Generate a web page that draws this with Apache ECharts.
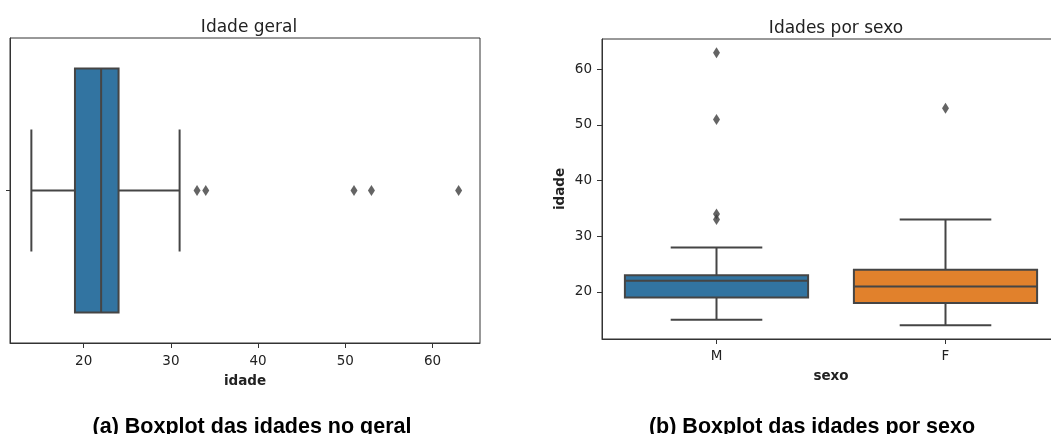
<!DOCTYPE html>
<html>
<head>
<meta charset="utf-8">
<script src="https://cdn.jsdelivr.net/npm/echarts@6/dist/echarts.min.js"></script>
<style>
html,body{margin:0;padding:0;background:#fff;}
#chart{width:1051px;height:434px;}
</style>
</head>
<body>
<div id="chart"></div>
<script>
// ---- data ----
const overallCategory = [''];
const overallStats = [14, 19, 22, 24, 31];      // lower whisker, Q1, median, Q3, upper whisker
const overallOutliers = [33, 34, 51, 53, 63];
const sexCategories = ['M', 'F'];
const sexStatsM = [15, 19, 22, 23, 28];
const sexStatsF = [14, 18, 21, 24, 33];
const sexOutliersM = [33, 34, 51, 63];
const sexOutliersF = [53];
const ageTicks = [20, 30, 40, 50, 60];
const ageMin = 11.55, ageMax = 65.45;

const boxColors = ['#3274a1', '#e1812c'];
const lineColor = '#454545';
const font = 'DejaVu Sans';
const textColor = '#222222';

function boxRender(horizontal) {
  return function (params, api) {
    const c = api.value(0);
    const v = [1, 2, 3, 4, 5].map(function (i) { return api.value(i); });
    const band = horizontal ? api.size([0, 1])[1] : api.size([1, 0])[0];
    const bw = band * 0.8, cw = band * 0.4;
    const pt = function (val) { return horizontal ? api.coord([val, c]) : api.coord([c, val]); };
    const p = v.map(pt);
    const lineStyle = { stroke: lineColor, lineWidth: 2 };
    const children = [];
    function seg(a, b) {
      children.push({ type: 'line', shape: { x1: a[0], y1: a[1], x2: b[0], y2: b[1] }, style: lineStyle });
    }
    function cross(q, half) {
      if (horizontal) seg([q[0], q[1] - half], [q[0], q[1] + half]);
      else seg([q[0] - half, q[1]], [q[0] + half, q[1]]);
    }
    seg(p[0], p[1]);
    seg(p[3], p[4]);
    cross(p[0], cw / 2);
    cross(p[4], cw / 2);
    let rect;
    if (horizontal) {
      rect = { x: p[1][0], y: p[1][1] - bw / 2, width: p[3][0] - p[1][0], height: bw };
    } else {
      rect = { x: p[1][0] - bw / 2, y: p[3][1], width: bw, height: p[1][1] - p[3][1] };
    }
    children.push({ type: 'rect', shape: rect, style: { fill: boxColors[params.dataIndex], stroke: lineColor, lineWidth: 2 } });
    cross(p[2], bw / 2);
    return { type: 'group', children: children };
  };
}

const axisText = { fontFamily: font, fontSize: 13.5, color: textColor };
const nameText = { fontFamily: font, fontSize: 13.5, fontWeight: 'bold', color: textColor };

const chart = echarts.init(document.getElementById('chart'), null, { renderer: 'canvas' });
chart.setOption({
  animation: false,
  backgroundColor: '#ffffff',
  title: [
    { text: 'Idade geral', left: 244, top: 14, textAlign: 'center',
      textStyle: { fontFamily: font, fontSize: 17, fontWeight: 'normal', color: textColor } },
    { text: 'Idades por sexo', left: 831, top: 15, textAlign: 'center',
      textStyle: { fontFamily: font, fontSize: 17, fontWeight: 'normal', color: textColor } },
    { text: '(a) Boxplot das idades no geral', left: 247, top: 411, textAlign: 'center',
      textStyle: { fontFamily: 'Liberation Sans', fontSize: 21.5, fontWeight: 'bold', color: '#000' } },
    { text: '(b) Boxplot das idades por sexo', left: 807, top: 411, textAlign: 'center',
      textStyle: { fontFamily: 'Liberation Sans', fontSize: 21.5, fontWeight: 'bold', color: '#000' } }
  ],
  grid: [
    { left: 10, top: 38, width: 470, height: 305, show: true, borderColor: '#333', borderWidth: 1,
      backgroundColor: 'transparent', outerBoundsMode: 'none', containLabel: false },
    { left: 602, top: 39, width: 458, height: 300, show: true, borderColor: '#333', borderWidth: 1,
      backgroundColor: 'transparent', outerBoundsMode: 'none', containLabel: false }
  ],
  xAxis: [
    { type: 'value', gridIndex: 0, min: ageMin, max: ageMax,
      name: 'idade', nameLocation: 'middle', nameGap: 31, nameTextStyle: nameText,
      axisLine: { show: true, lineStyle: { color: '#333' } },
      axisTick: { show: true, length: 5, lineStyle: { color: '#333' }, customValues: ageTicks },
      axisLabel: Object.assign({ margin: 11, customValues: ageTicks }, axisText),
      splitLine: { show: false } },
    { type: 'category', gridIndex: 1, data: sexCategories,
      name: 'sexo', nameLocation: 'middle', nameGap: 30, nameTextStyle: nameText,
      axisLine: { show: true, lineStyle: { color: '#333' } },
      axisTick: { show: true, length: 5, alignWithLabel: true, lineStyle: { color: '#333' } },
      axisLabel: Object.assign({ margin: 10 }, axisText),
      splitLine: { show: false } }
  ],
  yAxis: [
    { type: 'category', gridIndex: 0, data: overallCategory,
      axisLine: { show: true, lineStyle: { color: '#333' } },
      axisTick: { show: true, length: 4, alignWithLabel: true, lineStyle: { color: '#333' } },
      axisLabel: { show: false },
      splitLine: { show: false } },
    { type: 'value', gridIndex: 1, min: ageMin, max: ageMax,
      name: 'idade', nameLocation: 'middle', nameGap: 35, nameTextStyle: nameText,
      axisLine: { show: true, lineStyle: { color: '#333' } },
      axisTick: { show: true, length: 5, lineStyle: { color: '#333' }, customValues: ageTicks },
      axisLabel: Object.assign({ margin: 10, customValues: ageTicks }, axisText),
      splitLine: { show: false } }
  ],
  series: [
    { type: 'custom', xAxisIndex: 0, yAxisIndex: 0,
      renderItem: boxRender(true),
      encode: { x: [1, 2, 3, 4, 5], y: 0 },
      data: [[0].concat(overallStats)] },
    { type: 'scatter', xAxisIndex: 0, yAxisIndex: 0,
      symbol: 'diamond', symbolSize: [7, 11],
      itemStyle: { color: '#3d3d3d' },
      data: overallOutliers.map(function (v) { return [v, 0]; }) },
    { type: 'custom', xAxisIndex: 1, yAxisIndex: 1,
      renderItem: boxRender(false),
      encode: { x: 0, y: [1, 2, 3, 4, 5] },
      data: [[0].concat(sexStatsM), [1].concat(sexStatsF)] },
    { type: 'scatter', xAxisIndex: 1, yAxisIndex: 1,
      symbol: 'diamond', symbolSize: [7, 11],
      itemStyle: { color: '#3d3d3d' },
      data: sexOutliersM.map(function (v) { return [0, v]; })
        .concat(sexOutliersF.map(function (v) { return [1, v]; })) }
  ]
});
</script>
</body>
</html>
